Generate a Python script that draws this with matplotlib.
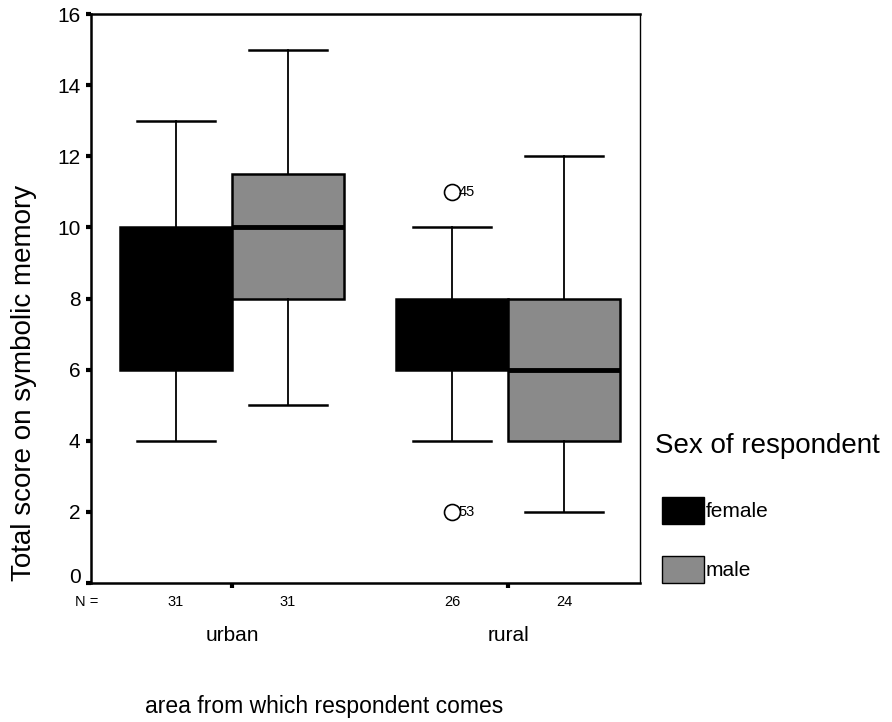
import matplotlib
matplotlib.use("Agg")
import matplotlib.pyplot as plt
from matplotlib.patches import Patch
from matplotlib.transforms import blended_transform_factory

plt.rcParams['font.family'] = ['Liberation Sans', 'DejaVu Sans']

# Data: SPSS-style boxplot summaries
areas = ["urban", "rural"]
sexes = ["female", "male"]
counts = {"female": [31, 26], "male": [31, 24]}
whisker_low = {"female": [4, 4], "male": [5, 2]}
q1 = {"female": [6, 6], "male": [8, 4]}
median = {"female": [8, 7], "male": [10, 6]}
q3 = {"female": [10, 8], "male": [11.5, 8]}
whisker_high = {"female": [13, 10], "male": [15, 12]}
outliers = {"female": [[], [11, 2]], "male": [[], []]}
outlier_ids = {"female": [[], ["45", "53"]], "male": [[], []]}

colors = {"female": "#000000", "male": "#8a8a8a"}

fig = plt.figure(figsize=(8.92, 7.22), dpi=100)
ax = fig.add_axes([0.102, 0.1925, 0.6155, 0.788])

box_w = 0.406
offsets = {"female": -box_w / 2, "male": box_w / 2}
group_pos = [1, 2]

for sex in sexes:
    stats = []
    positions = []
    for i, area in enumerate(areas):
        stats.append(dict(whislo=whisker_low[sex][i], q1=q1[sex][i],
                          med=median[sex][i], q3=q3[sex][i],
                          whishi=whisker_high[sex][i], fliers=outliers[sex][i]))
        positions.append(group_pos[i] + offsets[sex])
    ax.bxp(stats, positions=positions, widths=box_w, capwidths=box_w * 0.7,
           patch_artist=True, showfliers=True,
           boxprops=dict(facecolor=colors[sex], edgecolor="black", linewidth=1.8),
           medianprops=dict(color="black", linewidth=3.5),
           whiskerprops=dict(color="black", linewidth=1.3),
           capprops=dict(color="black", linewidth=1.8),
           flierprops=dict(marker="o", markerfacecolor="white",
                           markeredgecolor="black", markersize=11.5,
                           markeredgewidth=1.2),
           zorder=3)
    for i in range(len(areas)):
        for val, lab in zip(outliers[sex][i], outlier_ids[sex][i]):
            ax.text(group_pos[i] + offsets[sex] + 0.024, val, lab,
                    fontsize=10.5, va="center", ha="left", zorder=4)

ax.set_xlim(0.489, 2.478)
ax.set_ylim(0, 16)
ax.set_yticks(range(0, 17, 2))
ax.set_yticklabels([str(v) for v in range(0, 17, 2)], fontsize=15)
ax.get_yticklabels()[0].set_va("baseline")
ax.tick_params(axis="y", direction="out", length=3.5, width=3, pad=4)
ax.set_xticks(group_pos)
ax.set_xticklabels([])
ax.tick_params(axis="x", direction="out", length=3.5, width=3)

for side in ["left", "bottom", "top"]:
    ax.spines[side].set_linewidth(1.8)
ax.spines["right"].set_linewidth(1.0)

ax.set_ylabel("Total score on symbolic memory", fontsize=20)
ax.yaxis.set_label_coords(-0.098, 0.3515)

trans = blended_transform_factory(ax.transData, ax.transAxes)
ax.text(0.472, -0.0334, "N =", transform=trans, fontsize=10.5, ha="center", va="center")
for sex in sexes:
    for i in range(len(areas)):
        ax.text(group_pos[i] + offsets[sex], -0.0334, str(counts[sex][i]),
                transform=trans, fontsize=10.5, ha="center", va="center")
for i, area in enumerate(areas):
    ax.text(group_pos[i], -0.093, area, transform=trans, fontsize=15,
            ha="center", va="center")

fig.text(0.363, 0.0208, "area from which respondent comes", fontsize=16.5,
         ha="center", va="center")

# Legend: title set as its own text, entries below it
fig.text(655 / 892, 1 - 446 / 722, "Sex of respondent", fontsize=20,
         ha="left", va="center")
handles = [Patch(facecolor=colors[s], edgecolor="black", linewidth=1.0) for s in sexes]
leg = fig.legend(handles, sexes, loc="upper left",
                 bbox_to_anchor=(662 / 892, 1 - 497 / 722),
                 frameon=False, fontsize=15, handlelength=2.0, handleheight=1.6,
                 handletextpad=0.1, labelspacing=1.55, borderpad=0,
                 borderaxespad=0)

fig.savefig("out.png", dpi=100)
